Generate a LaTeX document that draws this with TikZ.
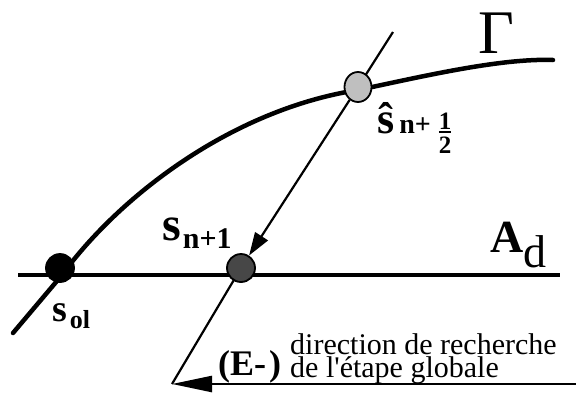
\documentclass[tikz,border=0pt]{standalone}
\usepackage{fontspec}
\setmainfont{Liberation Serif}
\usetikzlibrary{arrows.meta, shapes.geometric}

\newcommand{\halfbf}{\raisebox{-20pt}{\vbox{\offinterlineskip\halign{\hfil##\hfil\cr\textbf{1}\cr\noalign{\kern2pt\hrule height 2pt\kern3pt}\textbf{2}\cr}}}}

\tikzset{
  dot/.style={circle, draw=black, line width=1.8pt, minimum size=28pt, inner sep=0pt},
  curveline/.style={line width=4.5pt, line cap=round},
  thinline/.style={line width=2.2pt},
  lbl/.style={inner sep=0pt, anchor=base west}
}

\begin{document}
\begin{tikzpicture}[x=1pt, y=-1pt]
\useasboundingbox (0,0) rectangle (576,392);
\coordinate (sol0) at (60,268);
\coordinate (snext0) at (241,268);
\coordinate (hat0) at (358,87);
\coordinate (top) at (393,32);
\coordinate (bot) at (172,384);
\coordinate (tail) at (576,384);
% the line A_d and the curve Gamma
\draw[line width=4pt] (18,275) -- (560,275);
\draw[curveline] (13,333) -- (62,275) .. controls (118,198) and (230,110) .. (358,90)
  .. controls (420,77) and (500,58) .. (553,60);
% search line
\draw[thinline] (top) -- (hat0);
\draw[thinline] (snext0) -- (bot);
\node[dot, fill=black] (sol) at (sol0) {};
\node[dot, fill=black!72] (snext) at (snext0) {};
\node[dot, ellipse, minimum width=27pt, minimum height=30pt, fill=black!25] (hat) at (hat0) {};
\draw[thinline, -{Triangle[length=23pt, width=15pt]}] (hat) -- (snext);
\draw[line width=2.5pt, -{Triangle[length=40pt, width=16pt]}] (tail) -- (bot);
% labels
\node[lbl] (gamma) at (478,53) {\fontsize{62}{62}\selectfont Γ};
\node[lbl] (ad) at (490,252) {\fontsize{46}{46}\selectfont\textbf{A}\raisebox{-15pt}{d}};
\node[lbl] (lsol) at (52,321) {\fontsize{38}{38}\selectfont\textbf{s}\kern3pt\raisebox{-7pt}{\fontsize{26}{26}\selectfont\textbf{ol}}};
\node[lbl] (lsnext) at (162,240) {\fontsize{48}{48}\selectfont\textbf{s}\kern2pt\raisebox{-8pt}{\fontsize{30}{30}\selectfont\textbf{n+1}}};
\node[lbl] (lhat) at (377,133) {\fontsize{44}{44}\selectfont\textbf{\^{s}}\kern5pt\fontsize{28}{28}\selectfont\textbf{n+}\kern8pt\fontsize{25}{25}\selectfont\halfbf};
\node[lbl] (estep) at (218,375) {\fontsize{36}{36}\selectfont\textbf{(E-\kern3pt)}};
\node[lbl, align=left, font=\fontsize{30}{20}\selectfont] (dir) at (290,377) {direction de recherche\\de l\textquotesingle étape globale};
\end{tikzpicture}
\end{document}
